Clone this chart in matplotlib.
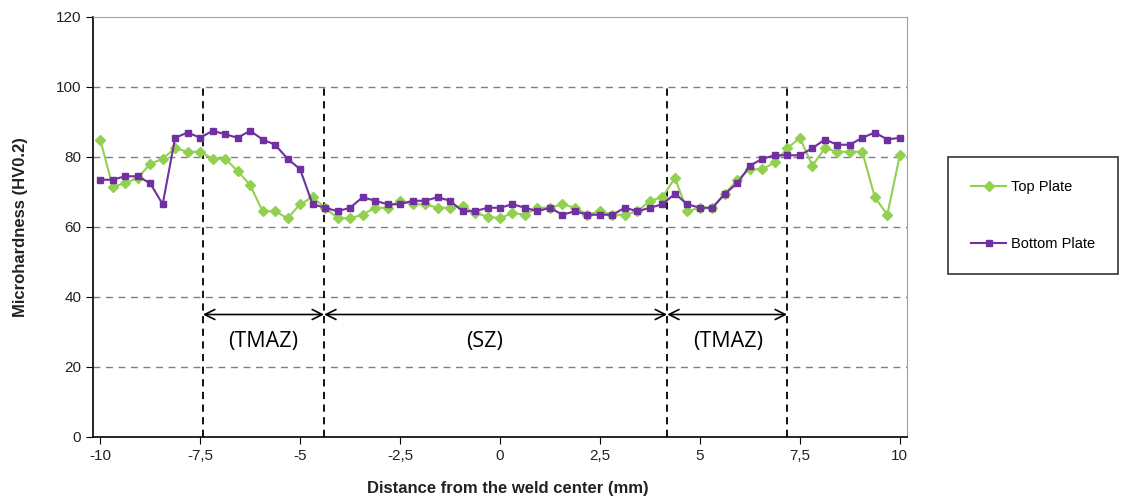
import numpy as np
import matplotlib.pyplot as plt

# measurement positions (mm from weld centre), 65 points
distance = np.linspace(-10, 10, 65)

top_plate = [85, 71.5, 72.5, 74, 78, 79.5, 82.5, 81.5, 81.5, 79.5, 79.5,
             76, 72, 64.5, 64.5, 62.5, 66.5, 68.5, 65.5, 62.5, 62.5, 63.5,
             65.5, 65.5, 67.5, 66.5, 66.5, 65.5, 65.5, 66, 64, 63, 62.5,
             64, 63.5, 65.5, 65.5, 66.5, 65.5, 63.5, 64.5, 63.5, 63.5, 64.5,
             67.5, 68.5, 74, 64.5, 65.5, 65.5, 69.5, 73.5, 76.5, 76.5, 78.5,
             82.5, 85.5, 77.5, 82.5, 81.5, 81.5, 81.5, 68.5, 63.5, 80.5]

bottom_plate = [73.5, 73.5, 74.5, 74.5, 72.5, 66.5, 85.5, 87, 85.5, 87.5, 86.5,
                85.5, 87.5, 85, 83.5, 79.5, 76.5, 66.5, 65.5, 64.5, 65.5, 68.5,
                67.5, 66.5, 66.5, 67.5, 67.5, 68.5, 67.5, 64.5, 64.5, 65.5, 65.5,
                66.5, 65.5, 64.5, 65.5, 63.5, 64.5, 63.5, 63.5, 63.5, 65.5, 64.5,
                65.5, 66.5, 69.5, 66.5, 65.5, 65.5, 69.5, 72.5, 77.5, 79.5, 80.5,
                80.5, 80.5, 82.5, 85, 83.5, 83.5, 85.5, 87, 85, 85.5]

zone_bounds = [-7.43, -4.4, 4.18, 7.18]
zone_names = ["(TMAZ)", "(SZ)", "(TMAZ)"]
zone_label_x = [-5.93, -0.38, 5.7]

xticks = [-10, -7.5, -5, -2.5, 0, 2.5, 5, 7.5, 10]
xtick_labels = ["-10", "-7,5", "-5", "-2,5", "0", "2,5", "5", "7,5", "10"]

plt.rcParams['font.family'] = ['Liberation Sans', 'DejaVu Sans']

fig = plt.figure(figsize=(11.21, 5.01), dpi=100)
ax = fig.add_axes([93 / 1121, 1 - 437 / 501, 814 / 1121, 420 / 501])

for y in [20, 40, 60, 80, 100]:
    ax.axhline(y, color='#808080', lw=1, ls=(0, (5, 4)), zorder=1)

ax.plot(distance, top_plate, color='#92D050', lw=1.5, marker='D',
        markersize=5.5, label='Top Plate', zorder=3)
ax.plot(distance, bottom_plate, color='#7030A0', lw=1.5, marker='s',
        markersize=4.5, label='Bottom Plate', zorder=4)

for xb in zone_bounds:
    ax.plot([xb, xb], [0, 100], color='black', lw=1.3, ls=(0, (4, 3)), zorder=2)

for i, name in enumerate(zone_names):
    x0, x1 = zone_bounds[i], zone_bounds[i + 1]
    ax.annotate('', xy=(x1, 35), xytext=(x0, 35),
                arrowprops=dict(arrowstyle='<->', color='black', lw=1.2,
                                shrinkA=0, shrinkB=0, mutation_scale=18))
    ax.text(zone_label_x[i], 27.3, name, ha='center', va='center',
            fontsize=15.5, family=['Open Sans', 'DejaVu Sans'])

ax.set_xlim(-10.18, 10.18)
ax.set_ylim(0, 120)
ax.set_yticks([0, 20, 40, 60, 80, 100, 120])
ax.set_xticks(xticks)
ax.set_xticklabels(xtick_labels)
ax.tick_params(axis='both', labelsize=11, direction='out', length=5,
               color='black', labelcolor='#222222')

for s in ['top', 'right']:
    ax.spines[s].set_color('#a0a0a0')
    ax.spines[s].set_linewidth(0.8)
for s in ['left', 'bottom']:
    ax.spines[s].set_color('black')
    ax.spines[s].set_linewidth(1.2)

ax.set_ylabel('Microhardness (HV0.2)', fontsize=12, fontweight='bold',
              color='#222222')
ax.yaxis.set_label_coords(-0.08, 0.5)
ax.set_xlabel('Distance from the weld center (mm)', fontsize=12,
              fontweight='bold', color='#222222')
ax.xaxis.set_label_coords(0.51, -0.105)

leg = fig.legend(loc='upper left', bbox_to_anchor=(948 / 1121, 1 - 157 / 501),
                 frameon=True, fancybox=False, fontsize=10.5,
                 labelspacing=2.9, borderpad=1.6, handlelength=2.4,
                 handletextpad=0.3, borderaxespad=0)
leg.get_frame().set_edgecolor('black')
leg.get_frame().set_linewidth(1.2)

fig.savefig('out.png', dpi=100)
